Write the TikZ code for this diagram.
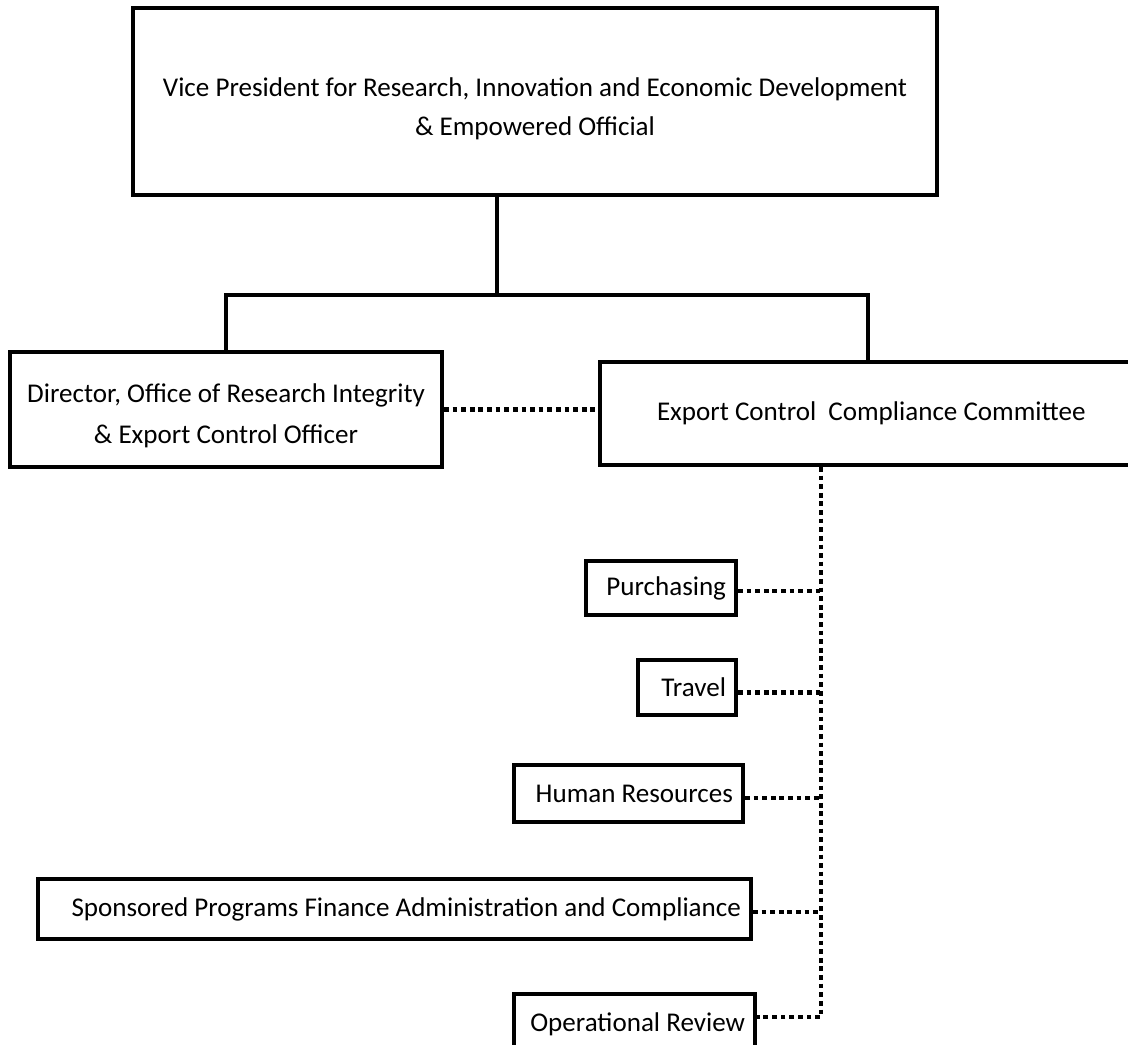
\documentclass[tikz,border=0pt]{standalone}
\usepackage{fontspec}
\setmainfont{Carlito}
\usetikzlibrary{
  calc,
  positioning,
}
\tikzset{
  box/.style={draw=black, line width=2.3pt, rectangle, inner sep=0pt, align=center},
  link/.style={draw=black, line width=2.3pt},
  dots/.style={draw=black, line width=2.6pt, dash pattern=on 2.7pt off 2.2pt},
}

\begin{document}
\begin{tikzpicture}[font=\fontsize{15.4}{23}\selectfont,
      unit/.style={
        box,
        anchor=north east,
        align=flush right,
        inner xsep=0.2cm,
        inner ysep=0pt
      }
    ]
      \useasboundingbox (0,0) rectangle (22.56,-20.9);

      \node [box, minimum width=16.08cm, minimum height=3.74cm] at (10.70,-2.03) (vp)
        {\rule{0pt}{0.66cm}Vice President for Research, Innovation and Economic Development\\[-1pt] \& Empowered Official};
      \node [box, minimum width=8.64cm, minimum height=2.30cm] at (4.52,-8.19) (dir)
        {\rule{0pt}{0.62cm}Director, Office of Research Integrity\\ \& Export Control Officer};
      % runs off the right edge of the page
      \node [box, anchor=west, align=flush left, text width=9.36cm, inner xsep=1.14cm,
        minimum height=2.06cm] at (11.96,-8.27) (eccc)
        {Export Control\ \ Compliance Committee};

      \node [unit, text width=2.6cm, minimum height=1.08cm] at (14.76,-11.18) (purch) {Purchasing};
      \node [unit, text width=1.56cm, minimum height=1.10cm] at (14.76,-13.16) (travel) {Travel};
      \node [unit, text width=4.18cm, minimum height=1.14cm] at (14.90,-15.26) (hr) {Human Resources};
      \node [unit, text width=13.86cm, minimum height=1.20cm] at (15.06,-17.54) (sp)
        {Sponsored Programs Finance Administration and Compliance};
      \node [unit, text width=4.42cm, text height=0.60cm, text depth=0.48cm, inner ysep=0.14cm]
        at (15.14,-19.84) (orev) {Operational Review};

      \coordinate (split) at (9.94,-5.9);
      \coordinate (spine) at (16.42,0);
      \coordinate (drop) at (17.36,0);

      \draw [link] (vp.south -| split) -- (split);
      \draw [link] (dir.north) |- (split) -| (eccc.north -| drop);
      \draw [dots] (dir.east) -- (dir.east -| eccc.west);
      \draw [dots] (eccc.south -| spine) |- ($(orev.north east)+(0,-0.5)$);
      \foreach \n in {purch,travel,hr,sp}
        \draw [dots] (\n.mid east) -- (\n.mid east -| spine);
    \end{tikzpicture}
\end{document}
